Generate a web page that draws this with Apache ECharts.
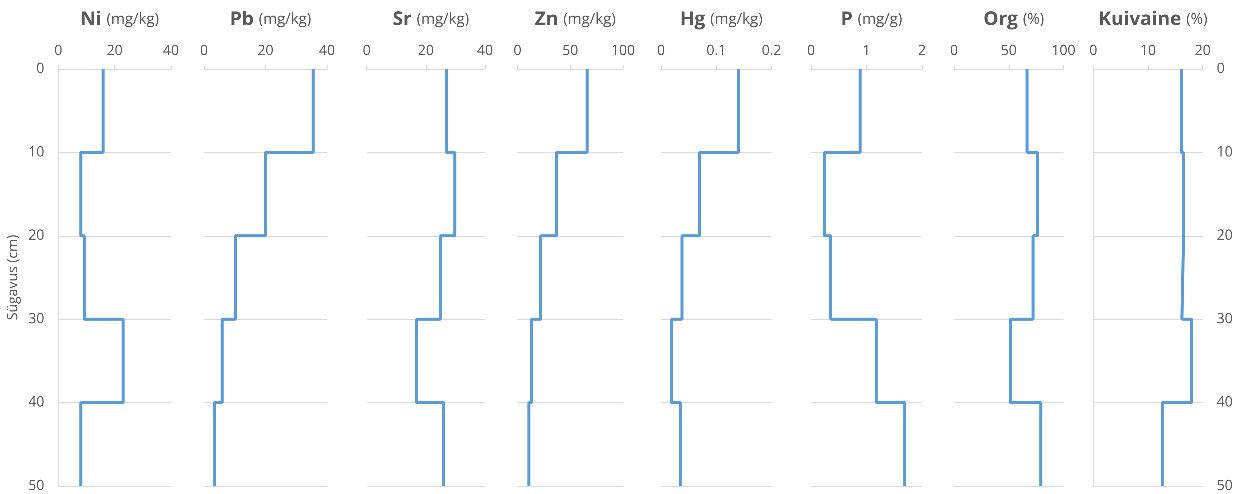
<!DOCTYPE html>
<html>
<head>
<meta charset="utf-8">
<script src="https://cdn.jsdelivr.net/npm/echarts@6/dist/echarts.min.js"></script>
<style>
html,body{margin:0;padding:0;background:#fff;}
#chart{width:1242px;height:494px;}
</style>
</head>
<body>
<div id="chart"></div>
<script>
// Depth boundaries (cm)
const depths = [0, 10, 20, 30, 40, 50];

// Panel names and units
const panelNames = ['Ni', 'Pb', 'Sr', 'Zn', 'Hg', 'P', 'Org', 'Kuivaine'];
const panelUnits = ['(mg/kg)', '(mg/kg)', '(mg/kg)', '(mg/kg)', '(mg/kg)', '(mg/g)', '(%)', '(%)'];

// Axis ranges (max and interval)
const axisMax = [40, 40, 40, 100, 0.2, 2, 100, 20];
const axisInterval = [20, 20, 20, 50, 0.1, 1, 50, 10];

// Values per depth layer (0-10, 10-20, 20-30, 30-40, 40-50)
const niValues = [15.9, 8.0, 9.2, 23.0, 8.0];
const pbValues = [35.5, 20.0, 10.2, 5.9, 3.4];
const srValues = [26.9, 29.8, 24.9, 16.9, 26.0];
const znValues = [66.0, 37.1, 21.9, 13.3, 10.8];
const hgValues = [0.140, 0.070, 0.038, 0.019, 0.035];
const pValues = [0.885, 0.24, 0.356, 1.175, 1.69];
const orgValues = [66.7, 76.1, 72.2, 51.4, 79.3];
const kuivValues = [16.1, 16.5, 16.2, 18.0, 12.6];

const allValues = [niValues, pbValues, srValues, znValues, hgValues, pValues, orgValues, kuivValues];

// Layout (pixel left / right of each plot area)
const panelLeft = [58.3, 204, 366.7, 517.5, 661, 811, 954, 1093.3];
const panelRight = [171, 327, 485, 623, 771.5, 922, 1063.5, 1202.7];
const TOP = 69, BOTTOM = 8;

const textColor = '#595959';
const gridColor = '#d9d9d9';
const lineColor = '#5b9bd5';
const fontFamily = '"Open Sans", "Liberation Sans", sans-serif';

function stepPoints(vals) {
  const pts = [];
  for (let i = 0; i < vals.length; i++) {
    pts.push([vals[i], depths[i]]);
    pts.push([vals[i], depths[i + 1]]);
  }
  return pts;
}

const grids = [], xAxes = [], yAxes = [], series = [], titles = [];
for (let i = 0; i < panelNames.length; i++) {
  grids.push({
    left: panelLeft[i],
    width: panelRight[i] - panelLeft[i],
    top: TOP,
    bottom: BOTTOM,
    containLabel: false
  });
  xAxes.push({
    gridIndex: i,
    type: 'value',
    position: 'top',
    min: 0,
    max: axisMax[i],
    interval: axisInterval[i],
    axisLine: { show: true, lineStyle: { color: gridColor, width: 1 } },
    axisTick: { show: true, length: 4, lineStyle: { color: gridColor } },
    axisLabel: { color: textColor, fontSize: 14, fontFamily: fontFamily, margin: 11 },
    splitLine: { show: false }
  });
  const isFirst = i === 0, isLast = i === panelNames.length - 1;
  yAxes.push({
    gridIndex: i,
    type: 'value',
    inverse: true,
    min: 0,
    max: 50,
    interval: 10,
    position: isLast ? 'right' : 'left',
    name: isFirst ? 'Sügavus (cm)' : '',
    nameLocation: 'middle',
    nameGap: 38,
    nameTextStyle: { color: textColor, fontSize: 14, fontFamily: fontFamily, padding: [0, 0, 0, 0] },
    axisLine: { show: isFirst || isLast, lineStyle: { color: gridColor } },
    axisTick: { show: false },
    axisLabel: { show: isFirst || isLast, color: textColor, fontSize: 14, fontFamily: fontFamily, margin: 14 },
    splitLine: { show: true, lineStyle: { color: gridColor, width: 1 } }
  });
  series.push({
    type: 'line',
    xAxisIndex: i,
    yAxisIndex: i,
    data: stepPoints(allValues[i]),
    showSymbol: false,
    symbol: 'none',
    lineStyle: { color: lineColor, width: 3 },
    animation: false
  });
  titles.push({
    text: '{b|' + panelNames[i] + '} {u|' + panelUnits[i] + '}',
    left: (panelLeft[i] + panelRight[i]) / 2,
    top: 5,
    textAlign: 'center',
    textStyle: {
      rich: {
        b: { fontSize: 19, fontWeight: 'bold', color: textColor, fontFamily: fontFamily },
        u: { fontSize: 15, fontWeight: 'normal', color: textColor, fontFamily: fontFamily }
      }
    }
  });
}

const chart = echarts.init(document.getElementById('chart'), null, { renderer: 'canvas', devicePixelRatio: 4 });
chart.setOption({
  animation: false,
  backgroundColor: '#ffffff',
  title: titles,
  grid: grids,
  xAxis: xAxes,
  yAxis: yAxes,
  series: series
});
</script>
</body>
</html>
